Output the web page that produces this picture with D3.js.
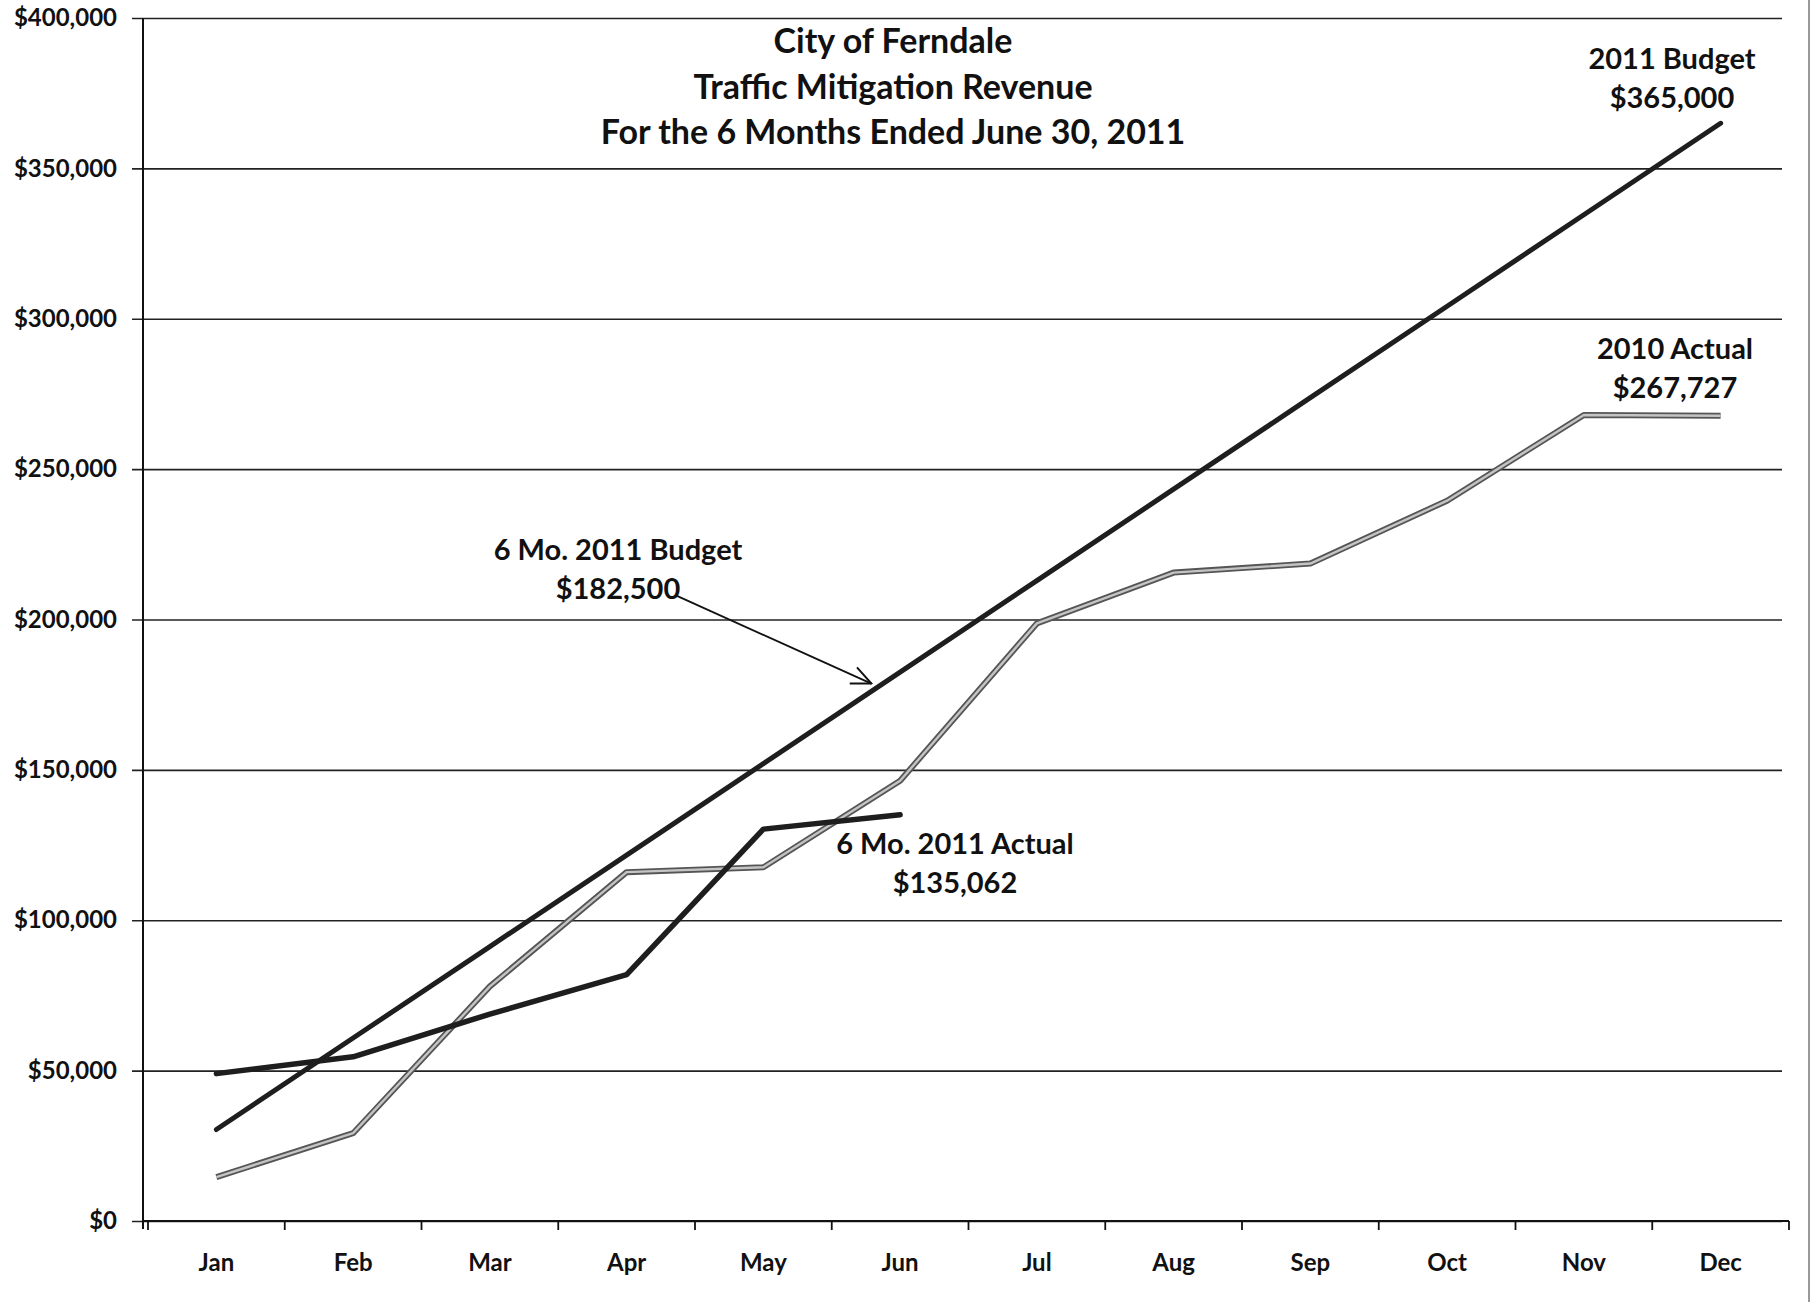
<!DOCTYPE html>
<html>
<head>
<meta charset="utf-8">
<script src="https://cdnjs.cloudflare.com/ajax/libs/d3/7.8.5/d3.min.js"></script>
<style>
  body { margin: 0; background: #fff; }
  svg text { font-family: Lato, "Open Sans", sans-serif; font-weight: bold; fill: #111; }
</style>
</head>
<body>
<div class="container"></div>
<script>
var months = ["Jan","Feb","Mar","Apr","May","Jun","Jul","Aug","Sep","Oct","Nov","Dec"];
var budget2011 = [30417, 60833, 91250, 121667, 152083, 182500, 212917, 243333, 273750, 304167, 334583, 365000];
var actual2010 = [14600, 29200, 78000, 116000, 117600, 146400, 198700, 215600, 218600, 239500, 268000, 267727];
var actual2011 = [49000, 54600, 68800, 81900, 130300, 135062];
var yTicks = [0, 50000, 100000, 150000, 200000, 250000, 300000, 350000, 400000];
var titleLines = ["City of Ferndale", "Traffic Mitigation Revenue", "For the 6 Months Ended June 30, 2011"];

var W = 1818, H = 1302;
var margin = {left: 143, right: 1789, top: 18, bottom: 1221};

var svg = d3.select(".container").append("svg")
  .attr("width", W)
  .attr("height", H);

var x = d3.scaleBand().domain(months).range([148, margin.right]);
// continuous helper for annotation positions (0 = left edge of Jan)
var xc = d3.scaleLinear().domain([0, 12]).range([148, margin.right]);
var y = d3.scaleLinear().domain([0, 400000]).range([margin.bottom, margin.top]);
var cx = function(m) { return x(m) + x.bandwidth() / 2; };

// gridlines + y labels
var yAxis = svg.append("g")
  .attr("transform", "translate(" + margin.left + ",0)")
  .call(d3.axisLeft(y).tickValues(yTicks).tickSize(-(1782 - margin.left))
    .tickFormat(function(d) { return "$" + d3.format(",")(d); }));
yAxis.select(".domain").remove();
yAxis.selectAll("line").attr("x1", -11).attr("stroke", "#222").attr("stroke-width", 1.6);
yAxis.selectAll("text")
  .attr("x", -26)
  .style("font-size", "24px")
  .style("font-weight", "bold")
  .style("font-family", "Lato, sans-serif");

// y axis line
svg.append("line")
  .attr("x1", margin.left).attr("x2", margin.left)
  .attr("y1", margin.top).attr("y2", margin.bottom + 8)
  .attr("stroke", "#111").attr("stroke-width", 2);

// x axis line and ticks between months
svg.append("line")
  .attr("x1", margin.left).attr("x2", margin.right)
  .attr("y1", margin.bottom).attr("y2", margin.bottom)
  .attr("stroke", "#111").attr("stroke-width", 2);
svg.selectAll(".xtick")
  .data(d3.range(13))
  .enter().append("line")
  .attr("class", "xtick")
  .attr("x1", function(d) { return xc(d); })
  .attr("x2", function(d) { return xc(d); })
  .attr("y1", margin.bottom).attr("y2", margin.bottom + 9)
  .attr("stroke", "#111").attr("stroke-width", 1.8);

// month labels
var xAxis = svg.append("g")
  .attr("transform", "translate(0," + margin.bottom + ")")
  .call(d3.axisBottom(x).tickSize(0));
xAxis.select(".domain").remove();
xAxis.selectAll("text")
  .attr("dy", 0)
  .attr("y", 50)
  .style("font-size", "24px")
  .style("font-weight", "bold")
  .style("font-family", "Lato, sans-serif");

// lines
var line = d3.line()
  .x(function(d, i) { return cx(months[i]); })
  .y(function(d) { return y(d); });

// 2010 actual: double outlined gray line
svg.append("path")
  .datum(actual2010)
  .attr("d", line)
  .attr("fill", "none")
  .attr("stroke", "#555")
  .attr("stroke-width", 6)
  .attr("stroke-linejoin", "round");
svg.append("path")
  .datum(actual2010)
  .attr("d", line)
  .attr("fill", "none")
  .attr("stroke", "#c4c4c4")
  .attr("stroke-width", 2.4)
  .attr("stroke-linejoin", "round");

svg.append("path")
  .datum(budget2011)
  .attr("d", line)
  .attr("fill", "none")
  .attr("stroke", "#1e1e1e")
  .attr("stroke-width", 5)
  .attr("stroke-linecap", "round");

svg.append("path")
  .datum(actual2011)
  .attr("d", line)
  .attr("fill", "none")
  .attr("stroke", "#1e1e1e")
  .attr("stroke-width", 5.5)
  .attr("stroke-linecap", "round")
  .attr("stroke-linejoin", "round");

// title
svg.selectAll(".title")
  .data(titleLines)
  .enter().append("text")
  .attr("class", "title")
  .attr("x", 893)
  .attr("y", function(d, i) { return 53 + i * 45.5; })
  .attr("text-anchor", "middle")
  .style("font-size", "34px")
  .text(function(d) { return d; });

// annotations
function label(lines, px, py) {
  svg.append("g").selectAll("text")
    .data(lines)
    .enter().append("text")
    .attr("x", px)
    .attr("y", function(d, i) { return py + i * 39; })
    .attr("text-anchor", "middle")
    .style("font-size", "29px")
    .text(function(d) { return d; });
}
label(["2011 Budget", "$365,000"], 1672, 69);
label(["2010 Actual", "$267,727"], 1675, 359);
label(["6 Mo. 2011 Budget", "$182,500"], 618, 560);
label(["6 Mo. 2011 Actual", "$135,062"], 955, 854);

// arrow to the 6 month budget point
svg.append("defs").append("marker")
  .attr("id", "arrow")
  .attr("viewBox", "0 0 20 20")
  .attr("refX", 19).attr("refY", 10)
  .attr("markerWidth", 22).attr("markerHeight", 22)
  .attr("markerUnits", "userSpaceOnUse")
  .attr("orient", "auto")
  .append("path")
  .attr("d", "M1,2 L19,10 L1,18")
  .attr("fill", "none")
  .attr("stroke", "#111")
  .attr("stroke-width", 1.8);

svg.append("line")
  .attr("x1", xc(3.86)).attr("y1", y(208000))
  .attr("x2", xc(5.29)).attr("y2", y(178700))
  .attr("stroke", "#111")
  .attr("stroke-width", 1.8)
  .attr("marker-end", "url(#arrow)");

// scanned page edge on the right
svg.append("line")
  .attr("x1", 1809).attr("x2", 1809)
  .attr("y1", 0).attr("y2", H)
  .attr("stroke", "#777").attr("stroke-width", 1.5);
</script>
</body>
</html>
